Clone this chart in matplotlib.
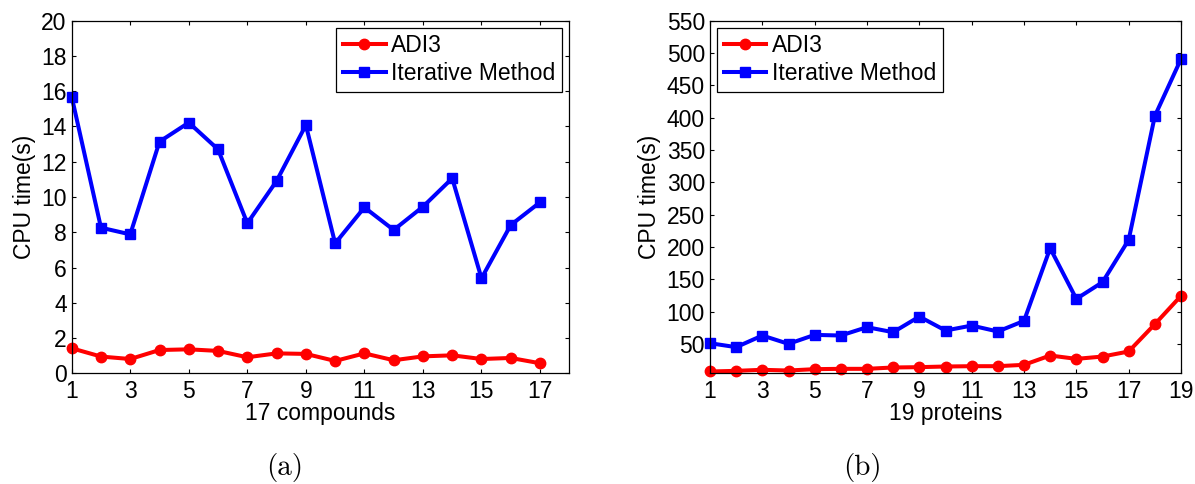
import matplotlib
matplotlib.use("Agg")
import matplotlib.pyplot as plt

plt.rcParams['font.family'] = ['Liberation Sans', 'DejaVu Sans']

# (a) 17 compounds
compounds = list(range(1, 18))
adi3_compounds = [1.42, 0.95, 0.81, 1.32, 1.36, 1.27, 0.91, 1.13, 1.10, 0.70,
                  1.13, 0.74, 0.96, 1.02, 0.81, 0.87, 0.57]
iter_compounds = [15.69, 8.26, 7.88, 13.14, 14.22, 12.70, 8.51, 10.91, 14.08, 7.37,
                  9.41, 8.13, 9.45, 11.06, 5.39, 8.41, 9.70]

# (b) 19 proteins
proteins = list(range(1, 20))
adi3_proteins = [7.8, 8.8, 10.4, 9.3, 11.4, 11.9, 11.9, 14.0, 14.5, 15.5,
                 16.0, 16.0, 18.1, 32.5, 27.3, 30.9, 38.7, 80.9, 124.7]
iter_proteins = [51.5, 45.4, 63.4, 50.5, 64.4, 63.4, 76.3, 68.5, 92.7, 71.1,
                 78.8, 69.6, 86.0, 198.3, 120.0, 145.8, 211.2, 402.7, 490.8]

left_yticks = list(range(0, 21, 2))
right_yticks = list(range(50, 551, 50))

fig = plt.figure(figsize=(11.95, 4.84), dpi=100)
W, H = 1195, 484


def px_axes(x0, y0, x1, y1):
    return fig.add_axes([x0 / W, 1 - y1 / H, (x1 - x0) / W, (y1 - y0) / H])


ax1 = px_axes(71.7, 20.7, 569.3, 373.3)
ax2 = px_axes(710, 20.7, 1181, 373.3)

line_kw = dict(linewidth=2.9, clip_on=False)
FS = 16.5


def style(ax):
    ax.tick_params(direction='in', top=True, right=True, length=3.2, width=0.8,
                   labelsize=FS)
    ax.tick_params(axis='x', pad=5)
    ax.tick_params(axis='y', pad=3.6)
    for s in ax.spines.values():
        s.set_linewidth(0.9)


leg_kw = dict(fontsize=FS, fancybox=False, edgecolor='black', framealpha=1,
              handlelength=1.85, borderpad=0.3, labelspacing=0.2,
              handletextpad=0.25, borderaxespad=0.3)

ax1.plot(compounds, adi3_compounds, color='#ff0000', marker='o', markersize=7.5,
         label='ADI3', **line_kw)
ax1.plot(compounds, iter_compounds, color='#0000ff', marker='s', markersize=7,
         label='Iterative Method', **line_kw)
ax1.set_xlim(1, 18)
ax1.set_ylim(0, 20)
ax1.set_xticks(list(range(1, 18, 2)))
ax1.set_yticks(left_yticks)
ax1.set_xlabel('17 compounds', fontsize=FS, labelpad=-1)
ax1.set_ylabel('CPU time(s)', fontsize=FS, labelpad=4)
style(ax1)
leg1 = ax1.legend(loc='upper right', **leg_kw)
leg1.get_frame().set_linewidth(0.9)

ax2.plot(proteins, adi3_proteins, color='#ff0000', marker='o', markersize=7.5,
         label='ADI3', **line_kw)
ax2.plot(proteins, iter_proteins, color='#0000ff', marker='s', markersize=7,
         label='Iterative Method', **line_kw)
ax2.set_xlim(1, 19)
ax2.set_ylim(5, 550)
ax2.set_xticks(list(range(1, 20, 2)))
ax2.set_yticks(right_yticks)
ax2.set_xlabel('19 proteins', fontsize=FS, labelpad=-1)
ax2.set_ylabel('CPU time(s)', fontsize=FS, labelpad=4)
style(ax2)
leg2 = ax2.legend(loc='upper left', **leg_kw)
leg2.get_frame().set_linewidth(0.9)

fig.text(285 / W, 1 - 467 / H, '(a)', fontsize=21, family='cmr10',
         ha='center', va='center')
fig.text(862 / W, 1 - 467 / H, '(b)', fontsize=21, family='cmr10',
         ha='center', va='center')

fig.savefig('out.png', dpi=100)
